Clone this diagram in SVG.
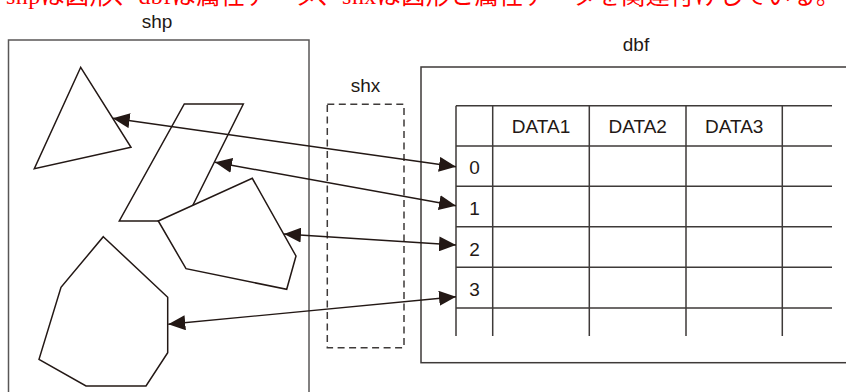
<svg xmlns="http://www.w3.org/2000/svg" width="846" height="392" viewBox="0 0 846 392">
<defs>
<style>
.frame{fill:none;stroke:#595757;stroke-width:1.5}
.box{fill:none;stroke:#3e3a39;stroke-width:1.5}
.shape{fill:#fff;stroke:#231815;stroke-width:1.5;stroke-linejoin:miter}
.grid{stroke:#3e3a39;stroke-width:1.5;fill:none}
.lbl{font-family:"Liberation Sans",Arial,sans-serif;font-size:19px;fill:#231815;text-anchor:middle}
.conn{stroke:#231815;stroke-width:1.4;fill:none;marker-start:url(#ah);marker-end:url(#ah)}
.note{font-family:"Liberation Serif","Noto Sans CJK JP",serif;font-size:24px;fill:#ff0000}
</style>
<marker id="ah" markerUnits="userSpaceOnUse" markerWidth="17" markerHeight="15" refX="17" refY="7.5" orient="auto-start-reverse">
<path d="M0,0 L17,7.5 L0,15 z" fill="#231815"/>
</marker>
</defs>
<rect width="846" height="392" fill="#fff"/>
<text class="note" x="6" y="3.5" textLength="834" lengthAdjust="spacing">shpは図形、dbfは属性データ、shxは図形と属性データを関連付けしている。</text>

<g id="shp">
<rect class="frame" x="8.5" y="40" width="300.5" height="360"/>
<text class="lbl" x="157" y="28">shp</text>
</g>
<g id="triangle">
<polygon class="shape" points="80.7,67.3 131,147.3 34.3,168.7"/>
</g>
<g id="parallelogram">
<polygon class="shape" points="184.3,104 243.3,104 185,221 119.3,221"/>
</g>
<g id="pentagon">
<polygon class="shape" points="158.3,221 252.3,178.3 296,256 286.7,289.3 186,268.7"/>
</g>
<g id="heptagon">
<polygon class="shape" points="103.3,236.7 167.7,297.3 167.7,352.7 146,386 86,386 39,359.3 61,287.3"/>
</g>

<g id="shx">
<rect x="327.3" y="104.3" width="76.7" height="243.4" fill="none" stroke="#3e3a39" stroke-width="1.5" stroke-dasharray="7 4.5"/>
<text class="lbl" x="365.5" y="91.5">shx</text>
</g>

<g id="dbf">
<rect class="box" x="421" y="67" width="440" height="295.7"/>
<text class="lbl" x="636" y="51">dbf</text>
<g class="grid">
<path d="M456,105.7H832 M456,146H832 M456,186.3H832 M456,226.7H832 M456,267.3H832 M456,308H832"/>
<path d="M456,105.7V336 M492.7,105.7V336 M589.3,105.7V336 M686,105.7V336 M782.3,105.7V336"/>
</g>
<text class="lbl" x="541" y="133.3">DATA1</text>
<text class="lbl" x="637.7" y="133.3">DATA2</text>
<text class="lbl" x="734.2" y="133.3">DATA3</text>
<text class="lbl" x="474.5" y="174">0</text>
<text class="lbl" x="474.5" y="214.5">1</text>
<text class="lbl" x="474.5" y="255.5">2</text>
<text class="lbl" x="474.5" y="296">3</text>
</g>

<g id="connectors">
<line class="conn" x1="112.7" y1="118.3" x2="456" y2="166.7"/>
<line class="conn" x1="215" y1="162.3" x2="456" y2="205.7"/>
<line class="conn" x1="284" y1="234" x2="456" y2="245"/>
<line class="conn" x1="168.3" y1="324.3" x2="456" y2="296.7"/>
</g>
</svg>
